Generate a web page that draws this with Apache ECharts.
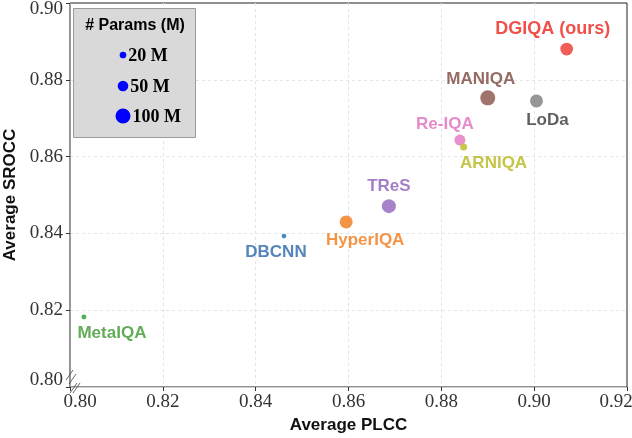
<!DOCTYPE html>
<html>
<head>
<meta charset="utf-8">
<script src="https://cdn.jsdelivr.net/npm/echarts@6/dist/echarts.min.js"></script>
<style>
  html, body { margin: 0; padding: 0; background: #fff; }
  #chart { width: 632px; height: 438px; }
</style>
</head>
<body>
<div id="chart"></div>
<script>
// values
const methods = ['DGIQA (ours)', 'MANIQA', 'LoDa', 'Re-IQA', 'ARNIQA', 'TReS', 'HyperIQA', 'DBCNN', 'MetaIQA'];
const plcc    = [0.907, 0.890, 0.9005, 0.884, 0.8848, 0.8687, 0.8595, 0.8461, 0.803];
const srocc   = [0.888, 0.8753, 0.8745, 0.8643, 0.8625, 0.8471, 0.843, 0.8393, 0.8182];
const params  = [72, 100, 75, 54, 22, 87, 75, 10, 11];
const legendParams = [20, 50, 100];

// styles
const pointColors = ['#ee3a32', '#8c564b', '#7f7f7f', '#e377c2', '#bcbd22', '#9467bd', '#f07c1e', '#1f6fb4', '#2ca02c'];
const labelColors = ['#ee2a22', '#7e4c42', '#3c3c3c', '#e070c0', '#b8b820', '#9062ba', '#f07c1e', '#2f6aab', '#3f9a33'];
const labelOffsets = [[-14, -20], [-7, -19], [11, 19], [-15, -16], [30, 16], [0, -20], [19, 18], [-8, 16], [28, 16]];

const size = p => 1.5 * Math.sqrt(p);

const SANS = '"Liberation Sans", Arial, sans-serif';
const SERIF = '"Liberation Serif", "Times New Roman", serif';

const chart = echarts.init(document.getElementById('chart'));

const data = methods.map((m, i) => ({
  name: m,
  value: [plcc[i], srocc[i], params[i]],
  itemStyle: { color: pointColors[i], opacity: 0.82 },
  label: {
    show: true,
    position: 'inside',
    offset: labelOffsets[i],
    formatter: m,
    color: labelColors[i],
    fontFamily: SANS,
    fontWeight: 'bold',
    fontSize: i === 0 ? 18 : 17,
    align: 'center',
    verticalAlign: 'middle'
  }
}));

// legend box (bubble size key)
const legendY = [55, 86, 116];
const legendEls = [
  { type: 'rect', shape: { x: 73.5, y: 8.5, width: 122, height: 129 },
    style: { fill: '#d9d9d9', stroke: '#9a9a9a', lineWidth: 1 }, z: 10 },
  { type: 'text', x: 135, y: 26, z: 11,
    style: { text: '# Params (M)', font: 'bold 16px ' + SANS, fill: '#000', align: 'center', verticalAlign: 'middle' } }
];
legendParams.forEach((p, i) => {
  const r = size(p) / 2;
  legendEls.push({ type: 'circle', z: 11, shape: { cx: 123, cy: legendY[i], r: r }, style: { fill: '#0000ff' } });
  legendEls.push({ type: 'text', z: 11, x: 123 + r + 2, y: legendY[i] + 1,
    style: { text: p + ' M', font: 'bold 18px ' + SERIF, fill: '#000', align: 'left', verticalAlign: 'middle' } });
});

// axis break marks
const breakEls = [
  [66, 380, 73, 370], [69, 384, 76, 374],
  [70, 393, 77, 383], [73, 393, 80, 383]
].map(l => ({
  type: 'line', z: 11, shape: { x1: l[0], y1: l[1], x2: l[2], y2: l[3] },
  style: { stroke: '#444', lineWidth: 0.8 }
}));

const tickFont = { fontFamily: SERIF, fontSize: 19, color: '#333' };

chart.setOption({
  animation: false,
  backgroundColor: '#fff',
  grid: {
    left: 70, right: 5, top: 3, bottom: 51,
    containLabel: false, outerBoundsMode: 'none',
    show: true, borderColor: '#222', borderWidth: 1, backgroundColor: 'transparent'
  },
  xAxis: {
    type: 'value', min: 0.80, max: 0.92, interval: 0.02,
    name: 'Average PLCC', nameLocation: 'middle', nameGap: 29,
    nameTextStyle: { fontFamily: SANS, fontWeight: 'bold', fontSize: 17, color: '#111' },
    axisLine: { show: true, lineStyle: { color: '#cfcfcf', width: 1 } },
    axisTick: { show: true, length: 4, lineStyle: { color: '#333' } },
    axisLabel: Object.assign({}, tickFont, {
      margin: 6,
      formatter: v => {
        if (Math.abs(v - 0.80) < 1e-9) return '{first|0.80}';
        if (Math.abs(v - 0.92) < 1e-9) return '{last|0.92}';
        return v.toFixed(2);
      },
      rich: {
        first: Object.assign({ padding: [0, 0, 0, 20] }, tickFont),
        last: Object.assign({ padding: [0, 22, 0, 0] }, tickFont)
      }
    }),
    splitLine: { show: true, showMinLine: false, showMaxLine: false, lineStyle: { color: '#e4e4e4', type: [3, 3] } }
  },
  yAxis: {
    type: 'value', min: 0.80, max: 0.90, interval: 0.02,
    name: 'Average SROCC', nameLocation: 'middle', nameGap: 45,
    nameTextStyle: { fontFamily: SANS, fontWeight: 'bold', fontSize: 17, color: '#111' },
    axisLine: { show: true, lineStyle: { color: '#9a9a9a', width: 1 } },
    axisTick: { show: true, length: 4, lineStyle: { color: '#333' } },
    axisLabel: Object.assign({}, tickFont, {
      margin: 7,
      formatter: v => {
        if (Math.abs(v - 0.90) < 1e-9) return '{top|0.90}';
        if (Math.abs(v - 0.80) < 1e-9) return '{bot|0.80}';
        return v.toFixed(2);
      },
      rich: {
        top: Object.assign({ padding: [12, 0, 0, 0] }, tickFont),
        bot: Object.assign({ padding: [0, 0, 14, 0] }, tickFont)
      }
    }),
    splitLine: { show: true, showMinLine: false, showMaxLine: false, lineStyle: { color: '#e4e4e4', type: [3, 3] } }
  },
  series: [{
    type: 'scatter',
    data: data,
    symbol: 'circle',
    symbolSize: v => size(v[2]),
    z: 3
  }],
  graphic: legendEls.concat(breakEls)
});
</script>
</body>
</html>
